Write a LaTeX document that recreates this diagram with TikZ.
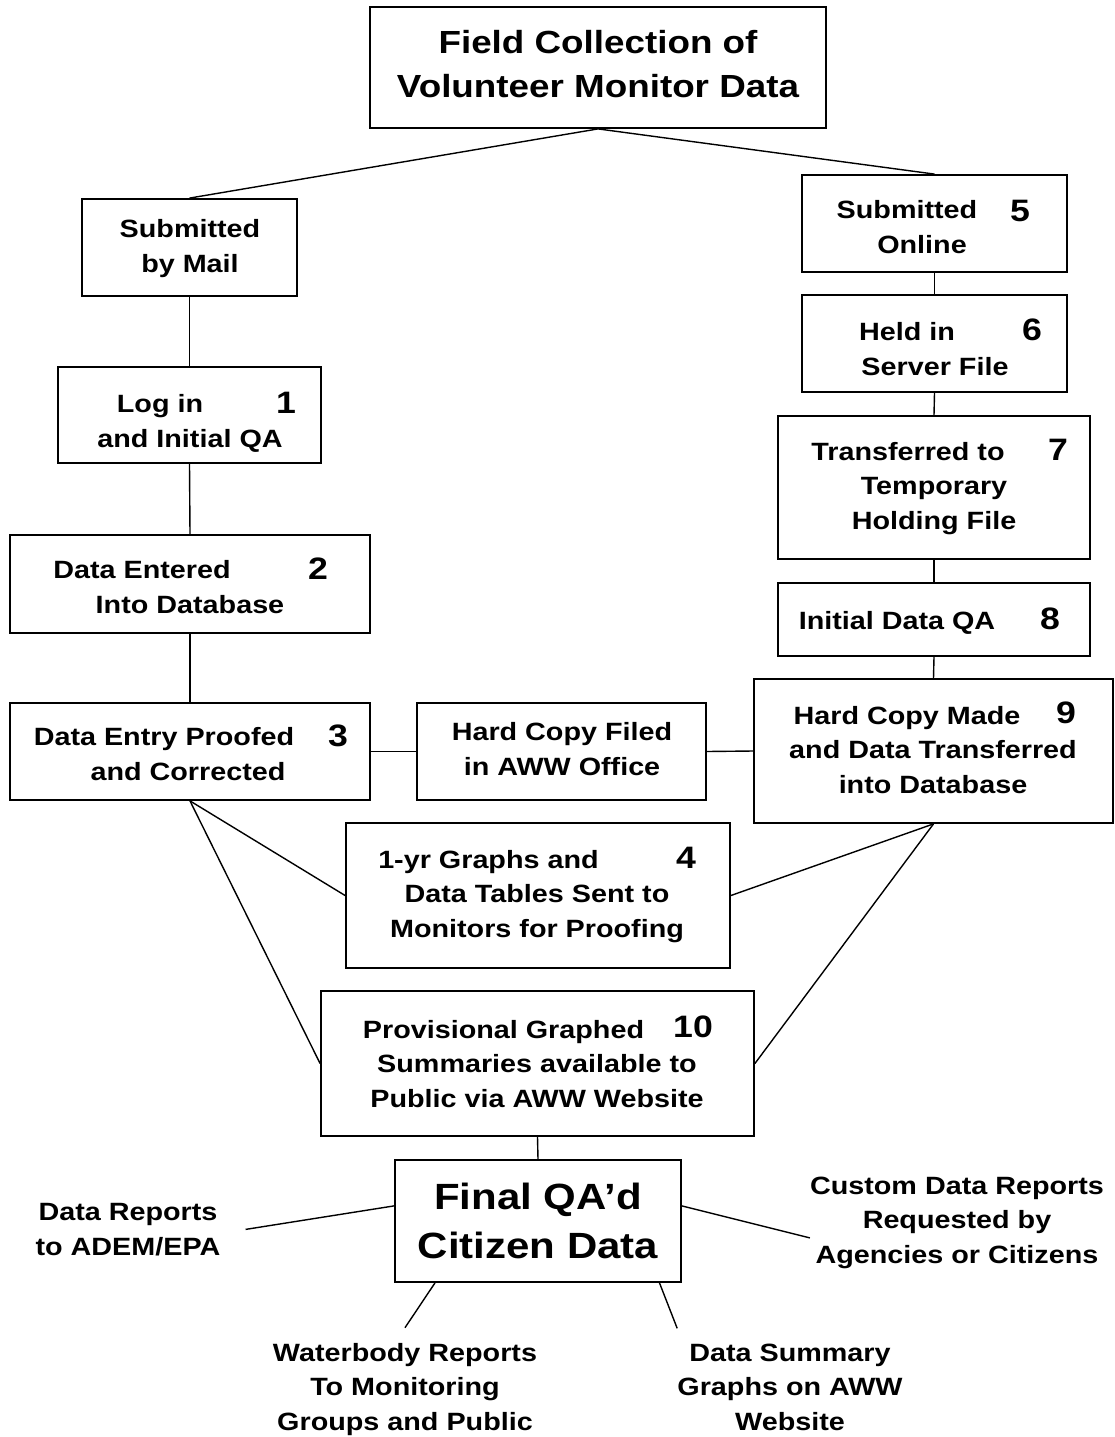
\documentclass[tikz,border=0pt]{standalone}
\usepackage{fontspec}
\setmainfont{Liberation Sans}[FakeStretch=1.15]
\newcommand{\titlefont}{\bfseries\fontsize{32}{44}\selectfont}
\newcommand{\finalfont}{\bfseries\fontsize{36.5}{49}\selectfont}
\tikzset{
  wbox/.style={draw, line width=1.8pt, inner sep=0pt},
  wtext/.style={align=center, anchor=base, inner sep=0pt,
    font=\bfseries\fontsize{25}{34.5}\selectfont},
  wnum/.style={anchor=base, inner sep=0pt,
    font=\bfseries\fontsize{31}{36}\selectfont},
  wline/.style={line width=1.4pt},
}
\newcommand{\wbox}[5]{%
  \node[wbox, minimum width={#4-#2}, minimum height={#5-#3}]
    (#1) at ({(#2+#4)/2},{(#3+#5)/2}) {};}
\newcommand{\wtext}[5][]{\node[wtext,#1] (#2) at (#3,#4) {#5};}
\newcommand{\wnum}[4]{\node[wnum] (#1) at (#2,#3) {#4};}

\begin{document}
\begin{tikzpicture}[x=1pt,y=-1pt]
  \useasboundingbox (0,0) rectangle (1115,1437);
  \wbox{title}{370}{7}{826}{128}
  \wbox{mail}{82}{199}{297}{296}
  \wbox{online}{802}{175}{1067}{272}
  \wbox{server}{802}{295}{1067}{392}
  \wbox{login}{58}{367}{321}{463}
  \wbox{transfer}{778}{416}{1090}{559}
  \wbox{entered}{10}{535}{370}{633}
  \wbox{initqa}{778}{583}{1090}{656}
  \wbox{proofed}{10}{703}{370}{800}
  \wbox{filed}{417}{703}{706}{800}
  \wbox{made}{754}{679}{1113}{823}
  \wbox{graphs}{346}{823}{730}{968}
  \wbox{prov}{321}{991}{754}{1136}
  \wbox{final}{395}{1160}{681}{1282}

  \wtext[font=\titlefont]{ttitle}{598}{97}{Field Collection of\\Volunteer Monitor Data}
  \wtext{tmail}{190}{272}{Submitted\\by Mail}
  \wtext{tonline}{922}{253}{Submitted\hspace*{30pt}\\Online}
  \wtext{tserver}{935}{375}{Held in\hspace*{56pt}\\Server File}
  \wtext{tlogin}{190}{447}{Log in\hspace*{60pt}\\and Initial QA}
  \wtext{ttransfer}{934}{529}{Transferred to\hspace*{52pt}\\Temporary\\Holding File}
  \wtext{tentered}{190}{613}{Data Entered\hspace*{96pt}\\Into Database}
  \wtext{tinitqa}{897}{629}{Initial Data QA}
  \wtext{tproofed}{188}{780}{Data Entry Proofed\hspace*{48pt}\\and Corrected}
  \wtext{tfiled}{562}{775}{Hard Copy Filed\\in AWW Office}
  \wtext{tmade}{933}{793}{Hard Copy Made\hspace*{52pt}\\and Data Transferred\\into Database}
  \wtext{tgraphs}{537}{937}{1-yr Graphs and\hspace*{97pt}\\Data Tables Sent to\\Monitors for Proofing}
  \wtext{tprov}{537}{1107}{Provisional Graphed\hspace*{67pt}\\Summaries available to\\Public via AWW Website}
  \wtext[font=\finalfont]{tfinal}{538}{1258}{Final QA’d\\Citizen Data}
  \wtext[inner xsep=25pt]{reports}{128}{1255}{Data Reports\\to ADEM/EPA}
  \wtext{custom}{957}{1263}{Custom Data Reports\\Requested by\\Agencies or Citizens}
  \wtext[inner ysep=15pt]{water}{405}{1430}{Waterbody Reports\\To Monitoring\\Groups and Public}
  \wtext[inner ysep=15pt]{summary}{790}{1430}{Data Summary\\Graphs on AWW\\Website}

  \wnum{n5}{1020}{221}{5}
  \wnum{n6}{1032}{340}{6}
  \wnum{n1}{286}{413}{1}
  \wnum{n7}{1058}{460}{7}
  \wnum{n2}{318}{579}{2}
  \wnum{n8}{1050}{629}{8}
  \wnum{n3}{338}{746}{3}
  \wnum{n9}{1066}{723}{9}
  \wnum{n4}{686}{868}{4}
  \wnum{n10}{693}{1037}{10}

  \draw[wline] (title.south) -- (mail.north);
  \draw[wline] (title.south) -- (online.north);
  \foreach \a/\b in {mail/login,login/entered,entered/proofed,online/server,
    server/transfer,transfer/initqa,initqa/made}
    \draw[wline] (\a.south) -- (\b.north);
  \draw[wline] (proofed.east) -- (filed.west);
  \draw[wline] (filed.east) -- (made.west);
  \draw[wline] (proofed.south) -- (graphs.west);
  \draw[wline] (proofed.south) -- (prov.west);
  \draw[wline] (made.south) -- (graphs.east);
  \draw[wline] (made.south) -- (prov.east);
  \draw[wline] (prov.south) -- (final.north);
  \draw[wline] (final.174) -- (reports.east);
  \draw[wline] (final.6) -- (custom.186);
  \draw[wline] (final.211) -- (water.north);
  \draw[wline] (final.333) -- (summary.north west);
\end{tikzpicture}
\end{document}
